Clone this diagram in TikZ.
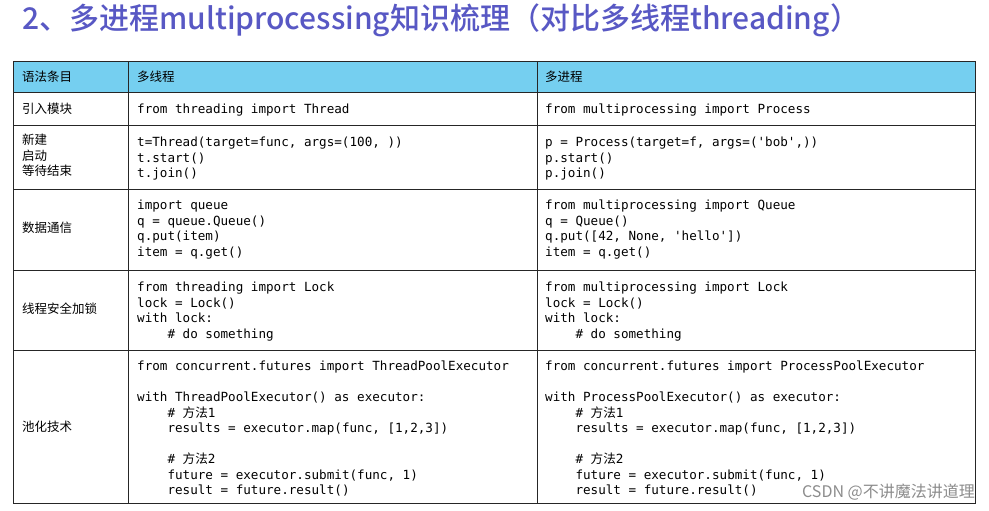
\documentclass[tikz,border=0pt]{standalone}
\usepackage{fontspec}
\setmainfont{Noto Sans CJK SC}
\setmonofont{DejaVu Sans Mono}
\newfontfamily\cjk{Noto Sans CJK SC}
\newfontfamily\cjkbold{Noto Sans CJK SC Medium}
\definecolor{headblue}{RGB}{117,207,240}
\definecolor{titleblue}{RGB}{88,88,196}
\begin{document}
\begin{tikzpicture}[x=1pt,y=-1pt,
  cell/.style={anchor=west,inner sep=0pt,font=\cjk\fontsize{12.5}{15}\selectfont},
  code/.style={anchor=north west,inner sep=0pt,align=left,font=\ttfamily\fontsize{12.6}{15.5}\selectfont},
  grid/.style={draw=black!85,line width=1pt}]
\useasboundingbox (0,0) rectangle (989,511);
% title
\node[anchor=west,inner sep=0pt,text=titleblue,font=\cjkbold\fontsize{30}{34}\selectfont] (title) at (22,20) {2、多进程multiprocessing知识梳理（对比多线程threading）};
% header and grid
\fill[headblue] (13,62) rectangle (975,93);
\draw[grid] (13,62) rectangle (975,503);
\foreach \y in {93,126,189,270,350} \draw[grid] (13,\y) -- (975,\y);
\foreach \x in {128,537} \draw[grid] (\x,62) -- (\x,503);
% header
\node[cell] (h1) at (22,77) {语法条目};
\node[cell] (h2) at (137,77) {多线程};
\node[cell] (h3) at (545,77) {多进程};
% left column
\node[cell] (r1) at (22,109) {引入模块};
\node[cell,anchor=north west,align=left,font=\cjk\fontsize{12.5}{15.5}\selectfont] (r2) at (22,134) {新建\\启动\\等待结束};
\node[cell] (r3) at (22,228) {数据通信};
\node[cell] (r4) at (22,309) {线程安全加锁};
\node[cell] (r5) at (22,427) {池化技术};
% thread column
\node[code] (t1) at (137,104) {from threading import Thread};
\node[code] (t2) at (137,137) {t=Thread(target=func, args=(100, ))\\t.start()\\t.join()};
\node[code] (t3) at (137,200) {import queue\\q = queue.Queue()\\q.put(item)\\item = q.get()};
\node[code] (t4) at (137,282) {from threading import Lock\\lock = Lock()\\with lock:\\\ \ \ \ \# do something};
\node[code] (t5) at (137,361) {from concurrent.futures import ThreadPoolExecutor\\[15.5pt]
with ThreadPoolExecutor() as executor:\\
\ \ \ \ \# {\cjk 方法}1\\
\ \ \ \ results = executor.map(func, [1,2,3])\\[15.5pt]
\ \ \ \ \# {\cjk 方法}2\\
\ \ \ \ future = executor.submit(func, 1)\\
\ \ \ \ result = future.result()};
% process column
\node[code] (p1) at (545,104) {from multiprocessing import Process};
\node[code] (p2) at (545,137) {p = Process(target=f, args=('bob',))\\p.start()\\p.join()};
\node[code] (p3) at (545,200) {from multiprocessing import Queue\\q = Queue()\\q.put([42, None, 'hello'])\\item = q.get()};
\node[code] (p4) at (545,282) {from multiprocessing import Lock\\lock = Lock()\\with lock:\\\ \ \ \ \# do something};
\node[code] (p5) at (545,361) {from concurrent.futures import ProcessPoolExecutor\\[15.5pt]
with ProcessPoolExecutor() as executor:\\
\ \ \ \ \# {\cjk 方法}1\\
\ \ \ \ results = executor.map(func, [1,2,3])\\[15.5pt]
\ \ \ \ \# {\cjk 方法}2\\
\ \ \ \ future = executor.submit(func, 1)\\
\ \ \ \ result = future.result()};
% watermark
\node[anchor=east,inner sep=0pt,text=black!45,font=\cjk\fontsize{16}{18}\selectfont] (mark) at (975,492) {CSDN @不讲魔法讲道理};
\end{tikzpicture}
\end{document}
